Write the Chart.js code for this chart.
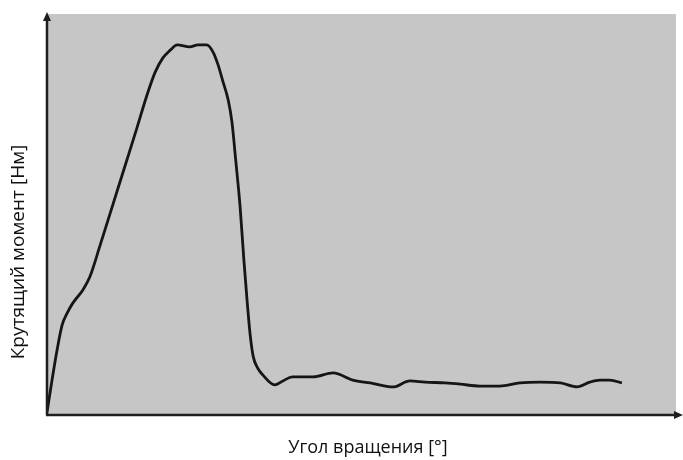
<!DOCTYPE html>
<html>
<head>
<meta charset="utf-8">
<script src="https://cdn.jsdelivr.net/npm/chart.js@4"></script>
<style>
  html, body { margin: 0; padding: 0; background: #fff; }
  #wrap { width: 683px; height: 460px; position: relative; }
</style>
</head>
<body>
<div id="wrap"><canvas id="torqueChart"></canvas></div>
<script>
// angle (relative units 0..100) and torque (relative units 0..100)
let angle = [0, 0.8, 1.6, 2.4, 3.2, 4.1, 5.7, 6.8, 8.4, 10.5, 12.4, 14.3, 15.9, 17.2, 18.4, 19.6, 20.7, 22.7, 24.0, 25.4, 26.4,
	27.2, 28.0, 28.8, 29.4, 30.0, 30.7, 31.3, 31.8, 32.3, 32.8, 33.5, 34.3, 36.2, 37.5, 39.0, 42.3, 45.5, 48.6, 51.4, 55.0,
	57.7, 60.1, 63.3, 65.7, 68.8, 72.0, 75.2, 78.4, 81.6, 84.3, 86.3, 87.9, 89.5, 91.4];
let torque = [0.7, 8.7, 16.2, 22.4, 25.4, 27.9, 31.2, 34.4, 42.1, 52.6, 62.1, 71.6, 79.8, 85.5, 89.0, 91.0, 92.3, 91.8, 92.3, 92.3, 90.5,
	87.3, 83.0, 78.6, 73.1, 63.6, 51.9, 38.7, 28.7, 20.0, 14.5, 11.7, 10.0, 7.5, 8.5, 9.5, 9.5, 10.5, 8.7, 8.0, 7.0,
	8.5, 8.2, 8.0, 7.7, 7.2, 7.2, 8.0, 8.2, 8.0, 7.0, 8.2, 8.7, 8.7, 8.0];

let xTitle = "Угол вращения [°]";
let yTitle = "Крутящий момент [Нм]";

let chart;

// gray plot background, axis arrows and titles
const framePlugin = {
	id: 'frame',
	beforeDraw(c) {
		const a = c.chartArea, ctx = c.ctx;
		ctx.save();
		ctx.fillStyle = '#c6c6c6';
		ctx.fillRect(a.left, a.top, a.right - a.left, a.bottom - a.top);
		ctx.restore();
	},
	afterDraw(c) {
		const a = c.chartArea, ctx = c.ctx;
		ctx.save();
		ctx.strokeStyle = '#1e1e1e';
		ctx.fillStyle = '#1e1e1e';
		ctx.lineWidth = 2.5;
		ctx.beginPath();
		ctx.moveTo(a.left, a.bottom);
		ctx.lineTo(a.left, a.top + 4);
		ctx.moveTo(a.left - 1, a.bottom);
		ctx.lineTo(a.right + 2, a.bottom);
		ctx.stroke();
		// arrow heads
		ctx.beginPath();
		ctx.moveTo(a.left, a.top - 2);
		ctx.lineTo(a.left - 4, a.top + 7);
		ctx.lineTo(a.left + 4, a.top + 7);
		ctx.closePath();
		ctx.fill();
		ctx.beginPath();
		ctx.moveTo(a.right + 7, a.bottom);
		ctx.lineTo(a.right - 2, a.bottom - 4);
		ctx.lineTo(a.right - 2, a.bottom + 4);
		ctx.closePath();
		ctx.fill();

		ctx.fillStyle = '#111';
		ctx.textAlign = 'center';
		ctx.textBaseline = 'middle';
		ctx.font = '18px "Open Sans"';
		ctx.fillText(xTitle, 368, 448);
		ctx.font = '19px "Open Sans"';
		ctx.translate(19, 252);
		ctx.rotate(-Math.PI / 2);
		ctx.fillText(yTitle, 0, 0);
		ctx.restore();
	}
};

window.onload = function(){
	let points = angle.map((x, i) => ({x: x, y: torque[i]}));
	let ctx = document.getElementById('torqueChart').getContext('2d');
	chart = new Chart(ctx, {
		type: 'line',
		data: {
			datasets: [{
				data: points,
				borderColor: '#151515',
				borderWidth: 2.8,
				pointRadius: 0,
				fill: false,
				cubicInterpolationMode: 'monotone'
			}]
		},
		options: {
			responsive: true,
			maintainAspectRatio: false,
			animation: false,
			layout: { padding: { left: 47, right: 7, top: 14, bottom: 45 } },
			plugins: { legend: { display: false }, tooltip: { enabled: false } },
			scales: {
				x: { type: 'linear', min: 0, max: 100, display: false },
				y: { min: 0, max: 100, display: false }
			}
		},
		plugins: [framePlugin]
	});
};
</script>
</body>
</html>
